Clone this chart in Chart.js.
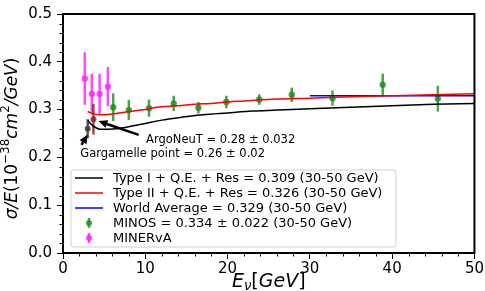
<!DOCTYPE html>
<html>
<head>
<meta charset="utf-8">
<script src="https://cdn.jsdelivr.net/npm/chart.js@4.4.0/dist/chart.umd.min.js"></script>
<style>
  html, body { margin: 0; padding: 0; background: #fff; }
  #wrap { width: 485px; height: 291px; }
</style>
</head>
<body>
<div id="wrap"><canvas id="chart"></canvas></div>
<script>
// Type I curve (black)
const typeIE   = [3.0, 3.5, 4.0, 4.5, 5.5, 6.5, 8, 10, 12, 14, 17, 20, 23, 26, 30, 35, 40, 45, 50];
const typeIVal = [0.277, 0.268, 0.262, 0.259, 0.259, 0.260, 0.264, 0.271, 0.278, 0.283, 0.289, 0.293, 0.297, 0.299, 0.302, 0.305, 0.308, 0.311, 0.313];

// Type II curve (red)
const typeIIE   = [3.0, 3.5, 4.0, 4.5, 5.5, 6.5, 8, 10, 11, 12, 14, 16, 18, 20, 22, 26, 30, 35, 40, 45, 50];
const typeIIVal = [0.296, 0.292, 0.290, 0.289, 0.290, 0.292, 0.296, 0.300, 0.304, 0.306, 0.308, 0.311, 0.313, 0.316, 0.318, 0.322, 0.324, 0.327, 0.329, 0.331, 0.333];

// World average (blue), 30-50 GeV
const worldE   = [30, 50];
const worldVal = [0.329, 0.329];

// MINOS points
const minosE   = [6.1, 8.0, 10.45, 13.45, 16.45, 19.85, 23.85, 27.8, 32.75, 38.85, 45.55];
const minosVal = [0.305, 0.299, 0.303, 0.313, 0.304, 0.316, 0.321, 0.331, 0.324, 0.352, 0.323];
const minosErr = [0.029, 0.021, 0.018, 0.016, 0.012, 0.013, 0.011, 0.015, 0.016, 0.023, 0.027];

// MINERvA points
const minervaE   = [2.65, 3.5, 4.45, 5.45];
const minervaVal = [0.365, 0.333, 0.333, 0.348];
const minervaErr = [0.055, 0.042, 0.042, 0.041];

// single points
const gargE = [3.0], gargVal = [0.26], gargErr = [0.02];
const argoE = [3.7], argoVal = [0.28], argoErr = [0.032];

// legend labels
const labels = [
  'Type I + Q.E. + Res = 0.309 (30-50 GeV)',
  'Type II + Q.E. + Res = 0.326 (30-50 GeV)',
  'World Average = 0.329 (30-50 GeV)',
  'MINOS = 0.334 \u00b1 0.022 (30-50 GeV)',
  'MINERvA'
];

// annotations: text anchor, arrow tail, arrow head (data units)
const notes = [
  { text: 'ArgoNeuT = 0.28 \u00b1 0.032', at: [10.1, 0.236], tail: [9.2, 0.247], head: [4.3, 0.276] },
  { text: 'Gargamelle point = 0.26 \u00b1 0.02', at: [2.1, 0.207], tail: [2.25, 0.226], head: [3.0, 0.248] }
];

const FONT = '"DejaVu Sans", sans-serif';
const green = 'rgba(30,140,30,0.8)';
const magenta = 'rgba(255,40,255,0.85)';

function pts(xs, ys) { return xs.map((x, i) => ({ x: x, y: ys[i] })); }

// draw rich text (segments of [text, italic, sup/sub])
function drawRich(ctx, segs, size, cx, cy) {
  const parts = segs.map(s => {
    const sz = s[2] ? size * 0.7 : size;
    ctx.font = (s[1] ? 'italic ' : '') + sz + 'px ' + FONT;
    return { t: s[0], f: ctx.font, w: ctx.measureText(s[0]).width, d: s[2] === 'sup' ? -size * 0.4 : (s[2] === 'sub' ? size * 0.25 : 0) };
  });
  const total = parts.reduce((a, p) => a + p.w, 0);
  let x = cx - total / 2;
  ctx.textBaseline = 'middle';
  ctx.textAlign = 'left';
  parts.forEach(p => { ctx.font = p.f; ctx.fillText(p.t, x, cy + p.d); x += p.w; });
}

const extras = {
  id: 'extras',
  beforeDatasetsDraw(chart) {
    const ctx = chart.ctx, xs = chart.scales.x, ys = chart.scales.y;
    ctx.save();
    chart.data.datasets.forEach(ds => {
      if (!ds.err) return;
      ctx.strokeStyle = ds.backgroundColor;
      ctx.lineWidth = 2.5;
      ds.data.forEach((p, i) => {
        const px = xs.getPixelForValue(p.x);
        ctx.beginPath();
        ctx.moveTo(px, ys.getPixelForValue(p.y - ds.err[i]));
        ctx.lineTo(px, ys.getPixelForValue(p.y + ds.err[i]));
        ctx.stroke();
      });
    });
    ctx.restore();
  },
  afterDraw(chart) {
    const ctx = chart.ctx, xs = chart.scales.x, ys = chart.scales.y, a = chart.chartArea;
    ctx.save();
    ctx.fillStyle = '#000';
    ctx.strokeStyle = '#000';

    // annotations with arrows
    notes.forEach(n => {
      const tx = xs.getPixelForValue(n.tail[0]), ty = ys.getPixelForValue(n.tail[1]);
      const hx = xs.getPixelForValue(n.head[0]), hy = ys.getPixelForValue(n.head[1]);
      const ang = Math.atan2(hy - ty, hx - tx), hl = 9, hw = 4;
      const bx = hx - hl * Math.cos(ang), by = hy - hl * Math.sin(ang);
      ctx.lineWidth = 2.5;
      ctx.beginPath(); ctx.moveTo(tx, ty); ctx.lineTo(bx, by); ctx.stroke();
      ctx.beginPath();
      ctx.moveTo(hx, hy);
      ctx.lineTo(bx + hw * Math.sin(ang), by - hw * Math.cos(ang));
      ctx.lineTo(bx - hw * Math.sin(ang), by + hw * Math.cos(ang));
      ctx.closePath(); ctx.fill();
      ctx.font = '11.5px ' + FONT;
      ctx.textAlign = 'left'; ctx.textBaseline = 'middle';
      ctx.fillText(n.text, xs.getPixelForValue(n.at[0]), ys.getPixelForValue(n.at[1]));
    });

    // legend box
    const lx = a.left + 8, ly = a.bottom - 83, lw = 325, lh = 77;
    ctx.fillStyle = 'rgba(255,255,255,0.85)';
    ctx.strokeStyle = '#d0d0d0';
    ctx.lineWidth = 1;
    ctx.beginPath();
    ctx.roundRect(lx, ly, lw, lh, 3);
    ctx.fill(); ctx.stroke();
    const legendSets = chart.data.datasets.filter(d => d.legend);
    legendSets.forEach((ds, i) => {
      const cy = ly + 8 + i * 15;
      if (ds.err) {
        ctx.strokeStyle = ds.backgroundColor; ctx.fillStyle = ds.backgroundColor;
        ctx.lineWidth = 2.5;
        ctx.beginPath(); ctx.moveTo(lx + 18, cy - 5); ctx.lineTo(lx + 18, cy + 5); ctx.stroke();
        ctx.beginPath(); ctx.arc(lx + 18, cy, 3, 0, Math.PI * 2); ctx.fill();
      } else {
        ctx.strokeStyle = ds.borderColor; ctx.lineWidth = 1.5;
        ctx.beginPath(); ctx.moveTo(lx + 4, cy); ctx.lineTo(lx + 32, cy); ctx.stroke();
      }
      ctx.fillStyle = '#000';
      ctx.font = '13px ' + FONT;
      ctx.textAlign = 'left'; ctx.textBaseline = 'middle';
      ctx.fillText(ds.label, lx + 42, cy + 1);
    });

    // minor ticks
    ctx.strokeStyle = '#000'; ctx.lineWidth = 1;
    for (let v = 0; v <= 50; v += 2) {
      if (v % 10 === 0) continue;
      const px = Math.round(xs.getPixelForValue(v)) + 0.5;
      ctx.beginPath(); ctx.moveTo(px, a.bottom); ctx.lineTo(px, a.bottom + 3.5); ctx.stroke();
    }
    for (let k = 0; k <= 25; k++) {
      if (k % 5 === 0) continue;
      const py = Math.round(ys.getPixelForValue(k * 0.02)) + 0.5;
      ctx.beginPath(); ctx.moveTo(a.left - 3.5, py); ctx.lineTo(a.left, py); ctx.stroke();
    }

    // frame
    ctx.lineWidth = 2;
    ctx.strokeRect(a.left, a.top, a.right - a.left, a.bottom - a.top);

    // axis titles
    ctx.fillStyle = '#000';
    drawRich(ctx, [['E', true], ['\u03bd', true, 'sub'], ['[', false], ['GeV', true], [']', false]], 19, (a.left + a.right) / 2, 282);
    ctx.translate(13, (a.top + a.bottom) / 2 + 5);
    ctx.rotate(-Math.PI / 2);
    drawRich(ctx, [['\u03c3/E', true], ['(10', false], ['\u221238', false, 'sup'], ['cm', true], ['2', false, 'sup'], ['/GeV', true], [')', false]], 17, 0, 0);
    ctx.restore();
  }
};

const ctx = document.getElementById('chart').getContext('2d');

const data = {
  datasets: [
    { type: 'line', label: labels[0], legend: true, data: pts(typeIE, typeIVal), borderColor: '#000', borderWidth: 1.5, pointRadius: 0, cubicInterpolationMode: 'monotone' },
    { type: 'line', label: labels[1], legend: true, data: pts(typeIIE, typeIIVal), borderColor: '#ff0000', borderWidth: 1.5, pointRadius: 0, cubicInterpolationMode: 'monotone' },
    { type: 'line', label: labels[2], legend: true, data: pts(worldE, worldVal), borderColor: '#0000ff', borderWidth: 1.5, pointRadius: 0 },
    { type: 'scatter', label: labels[3], legend: true, data: pts(minosE, minosVal), err: minosErr, backgroundColor: green, borderWidth: 0, pointRadius: 3.2 },
    { type: 'scatter', label: labels[4], legend: true, data: pts(minervaE, minervaVal), err: minervaErr, backgroundColor: magenta, borderWidth: 0, pointRadius: 3.2 },
    { type: 'scatter', label: 'Gargamelle', data: pts(gargE, gargVal), err: gargErr, backgroundColor: 'rgba(60,60,60,0.85)', borderWidth: 0, pointRadius: 3 },
    { type: 'scatter', label: 'ArgoNeuT', data: pts(argoE, argoVal), err: argoErr, backgroundColor: 'rgba(140,30,30,0.8)', borderWidth: 0, pointRadius: 3 }
  ]
};

const config = {
  type: 'scatter',
  data: data,
  options: {
    responsive: true,
    maintainAspectRatio: false,
    animation: false,
    layout: { padding: { top: 7, right: 10, left: 0, bottom: 0 } },
    plugins: { legend: { display: false }, tooltip: { enabled: false } },
    scales: {
      x: {
        type: 'linear', min: 0, max: 50,
        ticks: { stepSize: 10, color: '#000', padding: 1, font: { family: FONT, size: 15 } },
        grid: { drawOnChartArea: false, drawTicks: true, tickLength: 6, color: '#000' },
        border: { display: false },
        afterFit: s => { s.height = 38; }
      },
      y: {
        type: 'linear', min: 0, max: 0.5,
        ticks: { stepSize: 0.1, color: '#000', padding: 5, font: { family: FONT, size: 15 }, callback: v => v.toFixed(1) },
        grid: { drawOnChartArea: false, drawTicks: true, tickLength: 6, color: '#000' },
        border: { display: false },
        afterFit: s => { s.width = 63; }
      }
    }
  },
  plugins: [extras]
};

new Chart(ctx, config);
</script>
</body>
</html>
